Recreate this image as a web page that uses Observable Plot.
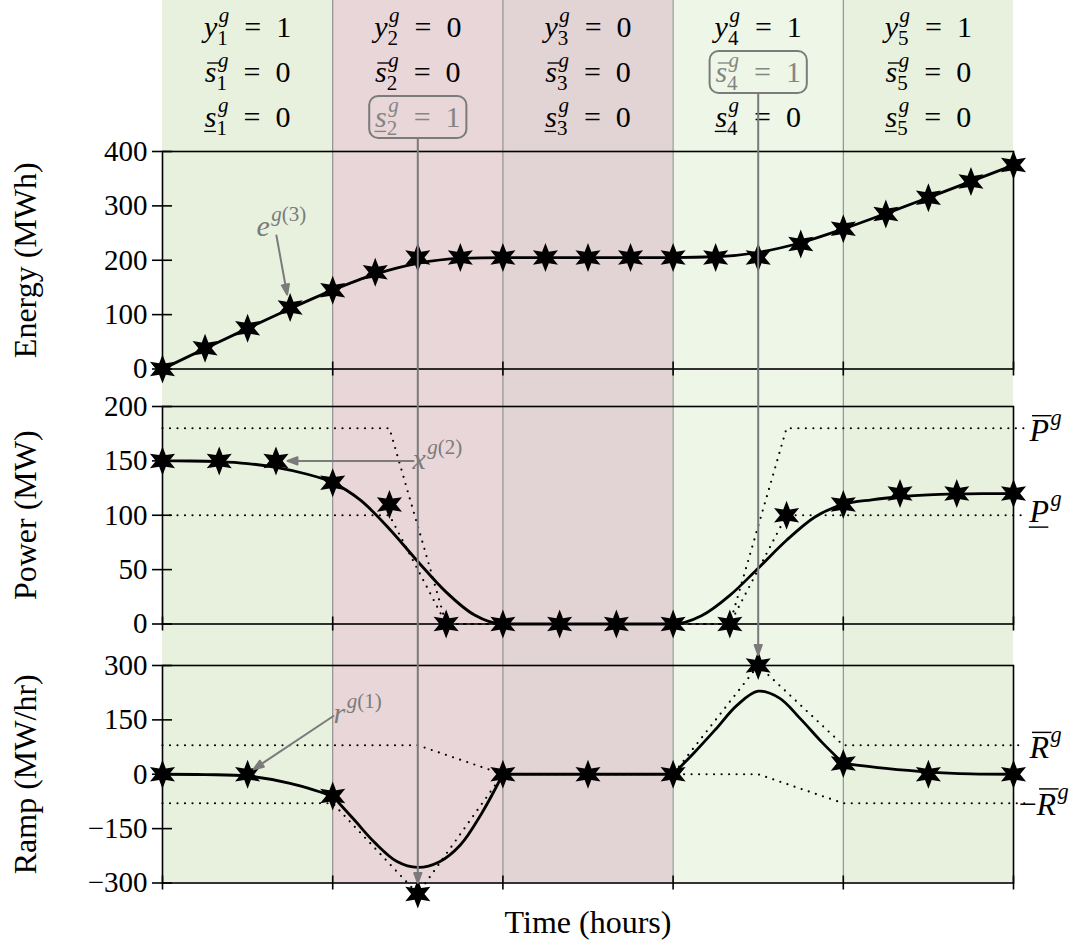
<!DOCTYPE html>
<html>
<head>
<meta charset="utf-8">
<script src="https://cdn.jsdelivr.net/npm/d3@7"></script>
<script src="https://cdn.jsdelivr.net/npm/@observablehq/plot@0.6"></script>
<style>
html, body { margin: 0; padding: 0; background: #fff; }
#chart { position: relative; width: 1078px; height: 945px; overflow: hidden; }
#chart svg { position: absolute; left: 0; overflow: visible; }
</style>
</head>
<body>
<div id="chart"></div>
<script>
// ---- hours and unit status -------------------------------------------------
const hours = [1, 2, 3, 4, 5];
const hourStart = [0, 1, 2, 3, 4];
const hourEnd = [1, 2, 3, 4, 5];
const hourFill = ["#e7f1dd", "#e8d6d9", "#e2d3d5", "#eef6e8", "#e7f1dd"];
const commitment = [1, 0, 0, 1, 1]; // y_i^g
const startup = [0, 0, 0, 1, 0];    // overline s_i^g
const shutdown = [0, 1, 0, 0, 0];   // underline s_i^g

// ---- energy e^{g(3)} (MWh): quartic Bernstein coefficients per hour ----------
const energyT = [0, 0.25, 0.5, 0.75, 1, 1.25, 1.5, 1.75, 2, 2.25, 2.5, 2.75, 3, 3.25, 3.5, 3.75, 4, 4.25, 4.5, 4.75, 5];
const energyCoef = [0, 38, 75, 113, 145, 178, 205, 205, 205, 205, 205, 205, 205, 205, 205, 230, 258, 285, 315, 345, 375];
const energyCurve = [0, 37.5, 74.7, 110.9, 145, 174.4, 194.4, 203.5, 205, 205, 205, 205, 205, 206.4, 214.5, 232.2, 257.5, 285.8, 315.2, 345, 375];

// ---- power x^{g(2)} (MW): cubic Bernstein coefficients per hour --------------
const powerT = [0, 1/3, 2/3, 1, 4/3, 5/3, 2, 7/3, 8/3, 3, 10/3, 11/3, 4, 13/3, 14/3, 5];
const powerCoef = [150, 150, 150, 130, 110, 0, 0, 0, 0, 0, 0, 100, 110, 120, 120, 120];
const powerCurveT = [0, 1/6, 2/6, 3/6, 4/6, 5/6, 1, 7/6, 8/6, 9/6, 10/6, 11/6, 2, 13/6, 14/6, 15/6, 16/6, 17/6, 3,
  19/6, 20/6, 21/6, 22/6, 23/6, 4, 25/6, 26/6, 27/6, 28/6, 29/6, 5];
const powerCurve = [150, 149.9, 149.3, 147.5, 144.1, 138.4, 130, 113.4, 87.4, 57.5, 29.3, 8.2, 0, 0, 0, 0, 0, 0, 0,
  7.5, 26.3, 51.3, 77, 98.4, 110, 114.2, 117, 118.8, 119.6, 119.9, 120];
const powerLimitT = [0, 4/3, 5/3, 10/3, 11/3, 5, 5.07];
const powerMax = [180, 180, 0, 0, 180, 180, 180];
const powerMin = [100, 100, 0, 0, 100, 100, 100];

// ---- ramp r^{g(1)} (MW/hr): quadratic Bernstein coefficients per hour --------
const rampT = [0, 0.5, 1, 1.5, 2, 2.5, 3, 3.5, 4, 4.5, 5];
const rampCoef = [0, 0, -60, -330, 0, 0, 0, 300, 30, 0, 0];
const rampCurveT = [
  [0, 0.25, 0.5, 0.75, 1],
  [1, 1.125, 1.25, 1.375, 1.5, 1.625, 1.75, 1.875, 2],
  [2, 3],
  [3, 3.125, 3.25, 3.375, 3.5, 3.625, 3.75, 3.875, 4],
  [4, 4.25, 4.5, 4.75, 5]
];
const rampCurve = [
  [0, -1, -5, -25, -60],
  [-60, -125, -190, -240, -257, -242, -195, -108, 0],
  [0, 0],
  [0, 60, 124, 190, 229, 210, 152, 88, 30],
  [30, 16, 6, 1, 0]
];
const rampMaxT = [0, 1.5, 2, 3, 3.5, 4, 5, 5.07];
const rampMax = [80, 80, 0, 0, 300, 80, 80, 80];
const rampMinT = [0, 1, 1.5, 2, 3.5, 4, 5, 5.07];
const rampMin = [-80, -80, -330, 0, 0, -80, -80, -80];

// ---- axes -------------------------------------------------------------------
const energyTicks = [0, 100, 200, 300, 400];
const powerTicks = [0, 50, 100, 150, 200];
const rampTicks = [-300, -150, 0, 150, 300];
const hourTicks = [0, 1, 2, 3, 4, 5];

// ---- shared layout and styles -----------------------------------------------
const W = 1078, ML = 162, MR = 65;
const FONT = "'Liberation Serif', 'Times New Roman', serif";
const GRAY = "#7b7b7b";
const baseStyle = {fontFamily: FONT, fontSize: "29px", color: "black", background: "transparent", overflow: "visible"};
const pts = (xs, ys) => xs.map((x, i) => ({x, y: ys[i]}));

// six-pointed star marker
const star6 = {
  draw(context, size) {
    const R = Math.sqrt(size / Math.PI), r = R * 0.46;
    for (let i = 0; i < 12; i++) {
      const a = (Math.PI * i) / 6 - Math.PI / 2;
      const rad = i % 2 ? r : R;
      const x = rad * Math.cos(a), y = rad * Math.sin(a);
      i ? context.lineTo(x, y) : context.moveTo(x, y);
    }
    context.closePath();
  }
};

// straight arrow with a filled triangular head
const arrowShape = {
  draw(context, l) {
    const head = 10, half = 3.6;
    context.moveTo(0, 0);
    context.lineTo(0, -l + head);
    context.moveTo(0, -l);
    context.lineTo(-half, -l + head);
    context.lineTo(half, -l + head);
    context.closePath();
  }
};

function frameAxes(ticks) {
  return [
    Plot.frame({stroke: "black", strokeWidth: 1.6}),
    Plot.axisY({ticks, tickSize: 10, tickPadding: 5, strokeWidth: 1.6, label: null, fontFamily: FONT, fontSize: 29}),
    Plot.axisY({ticks, tickSize: 10, dx: 10, strokeWidth: 1.6, tickFormat: () => "", label: null}),
    Plot.axisX({ticks: hourTicks, tickSize: 7, strokeWidth: 1.6, tickFormat: () => "", label: null}),
    Plot.axisX({ticks: hourTicks, tickSize: 7, dy: -7, strokeWidth: 1.6, tickFormat: () => "", label: null})
  ];
}
const yTitle = (title) => Plot.text([title], {text: (d) => d, frameAnchor: "left", dx: -137, rotate: -90,
  fontSize: 32, textAnchor: "middle", lineAnchor: "middle"});
const limitLine = (data) => Plot.line(data, {x: "x", y: "y", stroke: "black", strokeWidth: 2.2,
  strokeDasharray: "0 7.5", strokeLinecap: "round"});
const curveLine = (data, opts) => Plot.line(data, {x: "x", y: "y", stroke: "black", strokeWidth: 2.8, ...opts});
const stars = (data) => Plot.dot(data, {x: "x", y: "y", symbol: star6, r: 14.5, fill: "black", stroke: "none"});
const annotArrow = (datum, opts) => Plot.vector([datum], {x: "x", y: "y", anchor: "end", shape: arrowShape,
  stroke: GRAY, fill: GRAY, strokeWidth: 2, ...opts});

// ---- background: hour shading and hour boundaries ---------------------------
const hourData = hours.map((h, i) => ({h, start: hourStart[i], end: hourEnd[i], fill: hourFill[i]}));
const bg = Plot.plot({
  width: W, height: 882, marginLeft: ML, marginRight: MR, marginTop: 0, marginBottom: 0,
  style: baseStyle,
  x: {domain: [0, 5], axis: null},
  color: {type: "identity"},
  marks: [
    Plot.rect(hourData, {x1: "start", x2: "end", fill: "fill"}),
    Plot.ruleX(hourStart.slice(1), {stroke: "#8a8a8a", strokeWidth: 1.1})
  ]
});

// ---- header: status variables per hour ---------------------------------------
const rows = ["y", "sUp", "sDown"];
const EQ = "\u2002=\u2002";
const cells = hourData.flatMap((d, i) => [
  {...d, row: "y", label: `y_{${d.h}}^{g}${EQ}${commitment[i]}`, hl: false},
  {...d, row: "sUp", label: `\\bar{s}_{${d.h}}^{g}${EQ}${startup[i]}`, hl: startup[i] === 1},
  {...d, row: "sDown", label: `\\underline{s}_{${d.h}}^{g}${EQ}${shutdown[i]}`, hl: shutdown[i] === 1}
]);
const header = Plot.plot({
  width: W, height: 150, marginLeft: ML, marginRight: MR, marginTop: 0, marginBottom: 0,
  style: baseStyle,
  x: {domain: [0, 5], axis: null},
  y: {type: "band", domain: rows, range: [4, 139], padding: 0, axis: null},
  color: {type: "identity"},
  marks: [
    Plot.barX(cells.filter((d) => d.hl), {x1: "start", x2: "end", y: "row", insetLeft: 37, insetRight: 36,
      insetTop: 2, insetBottom: 1, rx: 9, fill: "none", stroke: GRAY, strokeWidth: 2}),
    Plot.text(cells, {x: (d) => (d.start + d.end) / 2, y: "row", text: "label",
      fill: (d) => (d.hl ? "#858585" : "black"), fontSize: 30})
  ]
});

// ---- energy panel -------------------------------------------------------------
const energyStars = pts(energyT, energyCoef);
const energy = Plot.plot({
  width: W, height: 257.5, marginLeft: ML, marginRight: MR, marginTop: 20, marginBottom: 20,
  style: baseStyle,
  x: {domain: [0, 5]},
  y: {domain: [0, 400]},
  marks: [
    ...frameAxes(energyTicks),
    curveLine(pts(energyT, energyCurve), {curve: "monotone-x"}),
    stars(energyStars),
    annotArrow(energyStars[3], {rotate: 169.7, length: 60, dx: -3, dy: -13}),
    Plot.text(["e^{g(3)}"], {text: (d) => d, x: 0.552, y: 262, textAnchor: "start", fill: GRAY, fontSize: 30}),
    yTitle("Energy (MWh)")
  ]
});

// ---- power panel --------------------------------------------------------------
const powerStars = pts(powerT, powerCoef);
const power = Plot.plot({
  width: W, height: 257.5, marginLeft: ML, marginRight: MR, marginTop: 20, marginBottom: 20,
  style: baseStyle,
  x: {domain: [0, 5]},
  y: {domain: [0, 200]},
  marks: [
    ...frameAxes(powerTicks),
    limitLine(pts(powerLimitT, powerMax)),
    limitLine(pts(powerLimitT, powerMin)),
    curveLine(pts(powerCurveT, powerCurve), {curve: "monotone-x"}),
    stars(powerStars),
    annotArrow(powerStars[2], {rotate: 270, length: 126, dx: 11.5}),
    Plot.text(["x^{g(2)}"], {text: (d) => d, x: 1.469, y: 151.7, textAnchor: "start", fill: GRAY, fontSize: 30}),
    Plot.text(["\\bar{P}^{g}"], {text: (d) => d, x: powerLimitT.at(-1), y: powerMax.at(-1), dx: 4, dy: 2.8,
      textAnchor: "start", fontSize: 32}),
    Plot.text(["\\underline{P}^{g}"], {text: (d) => d, x: powerLimitT.at(-1), y: powerMin.at(-1), dx: 4, dy: -3.5,
      textAnchor: "start", fontSize: 32}),
    yTitle("Power (MW)")
  ]
});

// ---- ramp panel ---------------------------------------------------------------
const rampStars = pts(rampT, rampCoef);
const rampLine = rampCurveT.flatMap((ts, h) => ts.map((x, i) => ({x, y: rampCurve[h][i], h})));
const midOf = (flags) => (hourStart[flags.indexOf(1)] + hourEnd[flags.indexOf(1)]) / 2;
const shutdownTip = rampStars[rampT.indexOf(midOf(shutdown))];
const startupTip = rampStars[rampT.indexOf(midOf(startup))];
const ramp = Plot.plot({
  width: W, height: 300.5, marginLeft: ML, marginRight: MR, marginTop: 20, marginBottom: 63,
  style: baseStyle,
  x: {domain: [0, 5]},
  y: {domain: [-300, 300]},
  marks: [
    ...frameAxes(rampTicks),
    limitLine(pts(rampMaxT, rampMax)),
    limitLine(pts(rampMinT, rampMin)),
    curveLine(rampLine, {z: "h", curve: "catmull-rom"}),
    stars(rampStars),
    annotArrow(rampStars[1], {rotate: 236.3, length: 96, dx: 6, dy: -5}),
    Plot.text(["r^{g(1)}"], {text: (d) => d, x: 1.005, y: 169, textAnchor: "start", fill: GRAY, fontSize: 30}),
    Plot.text(["\\bar{R}^{g}"], {text: (d) => d, x: rampMaxT.at(-1), y: rampMax.at(-1), dx: 4, dy: 2.5,
      textAnchor: "start", fontSize: 32}),
    Plot.text(["\u2212\\bar{R}^{g}"], {text: (d) => d, x: rampMinT.at(-1), y: rampMin.at(-1), dx: -7, dy: 1,
      textAnchor: "start", fontSize: 32}),
    // arrows from the start-up / shut-down flags down to the ramp they force
    annotArrow(shutdownTip, {rotate: 180, length: 744, dy: -11}),
    annotArrow(startupTip, {rotate: 180, length: 561, dy: -10.5}),
    Plot.text(["Time (hours)"], {text: (d) => d, frameAnchor: "bottom", dy: 40, lineAnchor: "middle", fontSize: 32}),
    yTitle("Ramp (MW/hr)")
  ]
});

// ---- assemble -----------------------------------------------------------------
const chart = document.getElementById("chart");
for (const [svg, top] of [[bg, 0], [header, 0], [energy, 131], [power, 386], [ramp, 644.5]]) {
  svg.style.top = top + "px";
  chart.appendChild(svg);
}

// ---- small TeX-like typesetting for labels: _{..}, ^{..}, \bar{..}, \underline{..}
const NS = "http://www.w3.org/2000/svg";
const SCRIPT = 0.7, RAISE = 0.5, DROP = 0.28;
function parseMath(src) {
  const items = [];
  let i = 0, plain = "";
  const flush = () => { if (plain) { items.push({kind: "base", text: plain}); plain = ""; } };
  const group = () => {
    let depth = 0;
    const start = i + 1;
    for (; i < src.length; i++) {
      if (src[i] === "{") depth++;
      else if (src[i] === "}" && --depth === 0) { i++; return src.slice(start, i - 1); }
    }
    return src.slice(start);
  };
  while (i < src.length) {
    const c = src[i];
    if (c === "\\") {
      flush();
      const m = /^\\(bar|underline)/.exec(src.slice(i));
      i += m[0].length;
      items.push({kind: "base", text: group(), deco: m[1]});
    } else if (c === "^" || c === "_") {
      flush();
      i++;
      items.push({kind: c === "^" ? "sup" : "sub", text: group()});
    } else {
      plain += c;
      i++;
    }
  }
  flush();
  return items;
}
function runs(parent, str) {
  for (const run of str.match(/[A-Za-z]+|[^A-Za-z]+/g) || []) {
    const t = document.createElementNS(NS, "tspan");
    if (/[A-Za-z]/.test(run)) t.setAttribute("font-style", "italic");
    t.textContent = run;
    parent.appendChild(t);
  }
}
function scriptSpan(str, fs) {
  const t = document.createElementNS(NS, "tspan");
  t.setAttribute("font-size", (SCRIPT * fs).toFixed(2));
  runs(t, str);
  return t;
}
function typeset(text) {
  const src = text.textContent;
  if (!/[\\^_]/.test(src)) return;
  const fs = parseFloat(getComputedStyle(text).fontSize);
  const items = parseMath(src);
  text.textContent = "";
  let shift = 0, carry = 0, n = 0;
  const bars = [];
  for (let k = 0; k < items.length; ) {
    const it = items[k];
    if (it.kind === "base") {
      const t = document.createElementNS(NS, "tspan");
      if (shift) t.setAttribute("dy", (-shift).toFixed(2));
      if (carry) t.setAttribute("dx", carry.toFixed(2));
      shift = carry = 0;
      runs(t, it.text);
      text.appendChild(t);
      if (it.deco) bars.push({from: n, to: n + it.text.length - 1, deco: it.deco, lower: /^[a-z]+$/.test(it.text)});
      n += it.text.length;
      k++;
    } else {
      let sup = null, sub = null;
      while (k < items.length && items[k].kind !== "base") {
        if (items[k].kind === "sup") sup = items[k].text; else sub = items[k].text;
        k++;
      }
      const kern = 0.05 * fs;
      let supW = 0, subW = 0;
      if (sup !== null) {
        const t = scriptSpan(sup, fs);
        t.setAttribute("dy", (-RAISE * fs - shift).toFixed(2));
        t.setAttribute("dx", (carry + kern).toFixed(2));
        shift = -RAISE * fs; carry = 0;
        text.appendChild(t);
        supW = t.getComputedTextLength() + kern;
        n += sup.length;
      }
      if (sub !== null) {
        const t = scriptSpan(sub, fs);
        t.setAttribute("dy", (DROP * fs - shift).toFixed(2));
        t.setAttribute("dx", (sup !== null ? -supW : carry).toFixed(2));
        shift = DROP * fs; carry = 0;
        text.appendChild(t);
        subW = t.getComputedTextLength();
        n += sub.length;
      }
      if (sup !== null && sub !== null) carry = Math.max(0, supW - subW);
    }
  }
  const color = getComputedStyle(text).fill;
  for (const b of bars) {
    const p0 = text.getStartPositionOfChar(b.from), p1 = text.getEndPositionOfChar(b.to);
    const over = b.deco === "bar";
    const y = p0.y + (over ? -(b.lower ? 0.62 : 0.8) * fs : 0.16 * fs);
    const sx = over ? 0.08 * fs : -0.02 * fs;
    const line = document.createElementNS(NS, "line");
    line.setAttribute("x1", p0.x + sx);
    line.setAttribute("x2", p1.x + sx);
    line.setAttribute("y1", y);
    line.setAttribute("y2", y);
    line.setAttribute("stroke", color);
    line.setAttribute("stroke-width", (0.045 * fs).toFixed(2));
    const tr = text.getAttribute("transform");
    if (tr) line.setAttribute("transform", tr);
    text.parentNode.insertBefore(line, text.nextSibling);
  }
}
chart.querySelectorAll("text").forEach(typeset);
</script>
</body>
</html>
